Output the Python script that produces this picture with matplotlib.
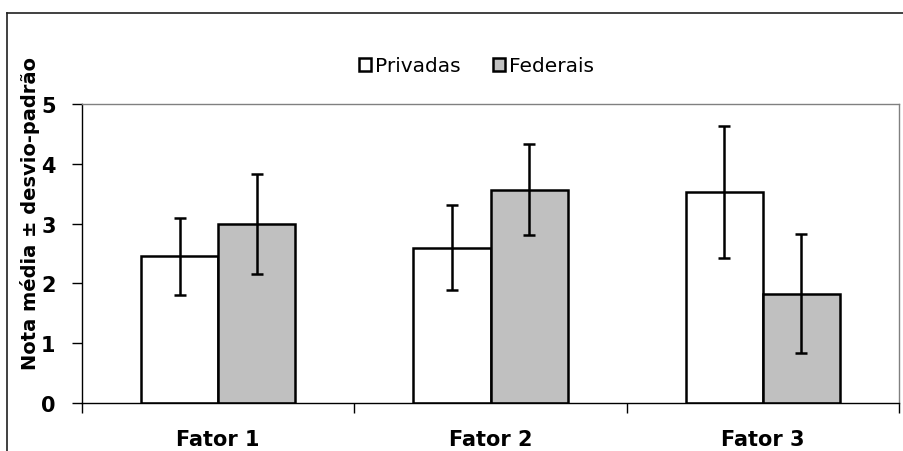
import matplotlib
matplotlib.use('Agg')
import matplotlib.pyplot as plt
from matplotlib.lines import Line2D
import numpy as np

# dados
fatores = ['Fator 1', 'Fator 2', 'Fator 3']
privadas = [2.45, 2.60, 3.53]
privadas_dp = [0.64, 0.71, 1.11]
federais = [2.99, 3.57, 1.83]
federais_dp = [0.84, 0.76, 0.99]

plt.rcParams['font.family'] = ['DejaVu Sans']

fig = plt.figure(figsize=(9.04, 4.52), dpi=100)
ax = fig.add_axes([0.0907, 0.1062, 0.9038, 0.6615])

x = np.arange(len(fatores))
w = 0.2835
err_kw = dict(ecolor='black', elinewidth=1.8, capsize=4.5, capthick=1.8)

ax.bar(x - w / 2, privadas, w, yerr=privadas_dp, color='white',
       edgecolor='black', linewidth=1.8, label='Privadas', error_kw=err_kw)
ax.bar(x + w / 2, federais, w, yerr=federais_dp, color='#c0c0c0',
       edgecolor='black', linewidth=1.8, label='Federais', error_kw=err_kw)

ax.set_xlim(-0.5, 2.5)
ax.set_ylim(0, 5)
ax.set_yticks([0, 1, 2, 3, 4, 5])
ax.set_xticks(x)
ax.set_xticklabels(fatores, fontsize=15, fontweight='bold')
ax.set_xticks([-0.5, 0.5, 1.5, 2.5], minor=True)
ax.tick_params(axis='x', which='major', length=0, pad=19)
ax.tick_params(axis='x', which='minor', length=7, width=1, direction='out')
ax.tick_params(axis='y', length=7, width=1, pad=12, labelsize=15)
for t in ax.get_yticklabels():
    t.set_fontweight('bold')

for s in ['left', 'bottom']:
    ax.spines[s].set_color('black')
    ax.spines[s].set_linewidth(1)
for s in ['top', 'right']:
    ax.spines[s].set_color('#808080')
    ax.spines[s].set_linewidth(1)

fig.text(0.033, 0.527, 'Nota média ± desvio-padrão', rotation=90,
         ha='center', va='center', fontsize=14, fontweight='bold')

fig.legend(loc='center', bbox_to_anchor=(0.527, 0.852), ncol=2, frameon=False,
           fontsize=14.5, handlelength=0.6, handleheight=0.6,
           handletextpad=0.2, columnspacing=1.6)

# moldura externa do gráfico
fig.add_artist(Line2D([7 / 904, 7 / 904], [0, 1 - 14 / 452],
                      transform=fig.transFigure, color='#202020', lw=1.2))
fig.add_artist(Line2D([7 / 904, 1], [1 - 14 / 452, 1 - 14 / 452],
                      transform=fig.transFigure, color='#202020', lw=1.2))

fig.savefig('out.png', dpi=100)
